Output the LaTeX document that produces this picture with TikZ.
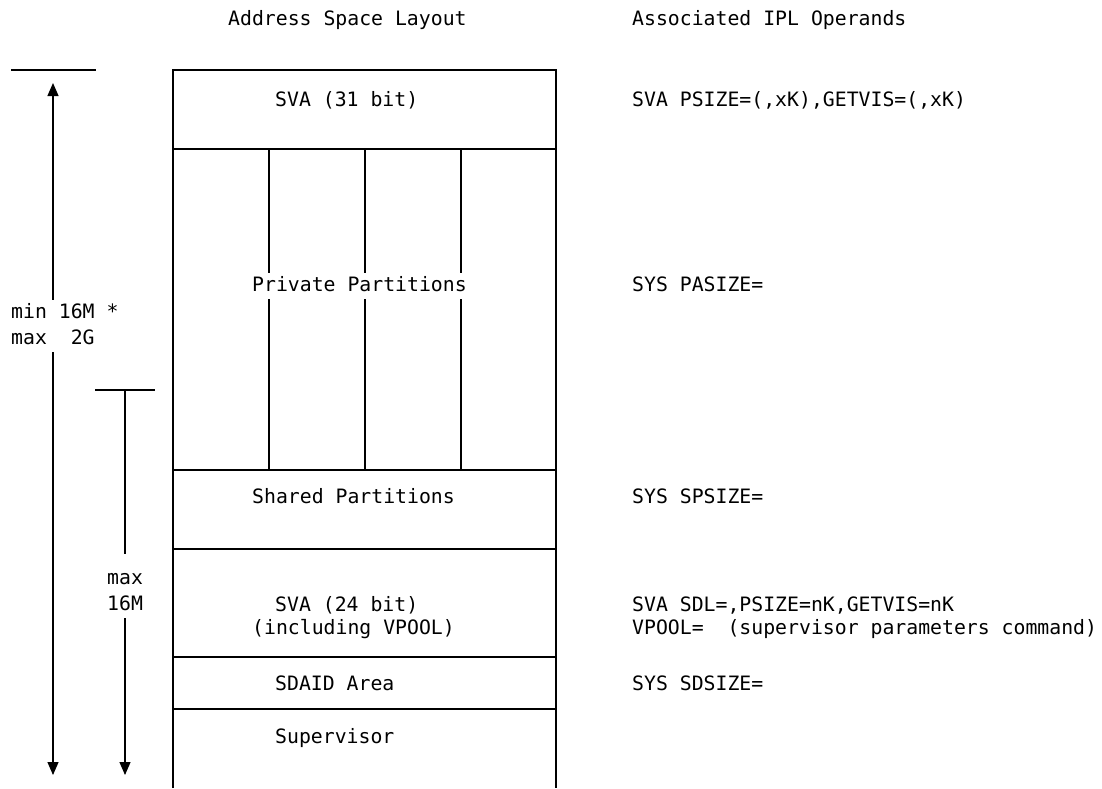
\documentclass[tikz,border=0pt]{standalone}
\usepackage{fontspec}
\setmonofont{DejaVu Sans Mono}
\usetikzlibrary{arrows.meta}
\begin{document}
\begin{tikzpicture}[x=1pt, y=-1pt,
  txt/.style={anchor=base west, xshift=-4pt, fill=white, inner sep=4pt, text height=14pt, text depth=4pt, font=\ttfamily\fontsize{19.8}{24}\selectfont},
  wall/.style={line width=1.3pt},
  darr/.style={{Triangle[width=11pt,length=13pt]}-{Triangle[width=11pt,length=13pt]}, line width=1.2pt},
  arr/.style={-{Triangle[width=11pt,length=13pt]}, line width=1.2pt}
]
\useasboundingbox (0,0) rectangle (1102,788);
% address space box, open at the bottom
\draw[wall] (173,788) -- (173,70) -- (556,70) -- (556,788);
\foreach \y in {149,470,549,657,709}
  \draw[wall] (173,\y) -- (556,\y);
\foreach \x in {269,365,461}
  \draw[wall] (\x,149) -- (\x,470);
% size markers on the left
\coordinate (top1) at (11,70);
\coordinate (top1e) at (96,70);
\coordinate (top2) at (95,390);
\coordinate (top2e) at (155,390);
\coordinate (up1) at (53,83);
\coordinate (dn1) at (53,775);
\coordinate (up2) at (125,390);
\coordinate (dn2) at (125,775);
\draw[wall] (top1) -- (top1e);
\draw[wall] (top2) -- (top2e);
\draw[darr] (up1) -- (dn1);
\draw[arr] (up2) -- (dn2);
% headings
\node[txt] (hlayout) at (228,25) {Address Space Layout};
\node[txt] (hoper)   at (632,25) {Associated IPL Operands};
% layout areas
\node[txt] (sva31)   at (275,106) {SVA (31 bit)};
\node[txt] (private) at (252,291) {Private Partitions};
\node[txt] (shared)  at (252,503) {Shared Partitions};
\node[txt] (sva24)   at (275,611) {SVA (24 bit)};
\node[txt] (vpool)   at (252,634) {(including VPOOL)};
\node[txt] (sdaid)   at (275,690) {SDAID Area};
\node[txt] (super)   at (275,743) {Supervisor};
% sizes
\node[txt] (min16)   at (11,318) {min 16M *};
\node[txt] (max2g)   at (11,344) {max~~2G};
\node[txt, text height=26pt] (max)     at (107,584) {max};
\node[txt] (m16)     at (107,610) {16M};
% IPL operands
\node[txt] (osva31)  at (632,106) {SVA PSIZE=(,xK),GETVIS=(,xK)};
\node[txt] (opasize) at (632,291) {SYS PASIZE=};
\node[txt] (ospsize) at (632,503) {SYS SPSIZE=};
\node[txt] (osva24)  at (632,611) {SVA SDL=,PSIZE=nK,GETVIS=nK};
\node[txt] (ovpool)  at (632,634) {VPOOL=~~(supervisor parameters command)};
\node[txt] (osdsize) at (632,690) {SYS SDSIZE=};
\end{tikzpicture}
\end{document}
